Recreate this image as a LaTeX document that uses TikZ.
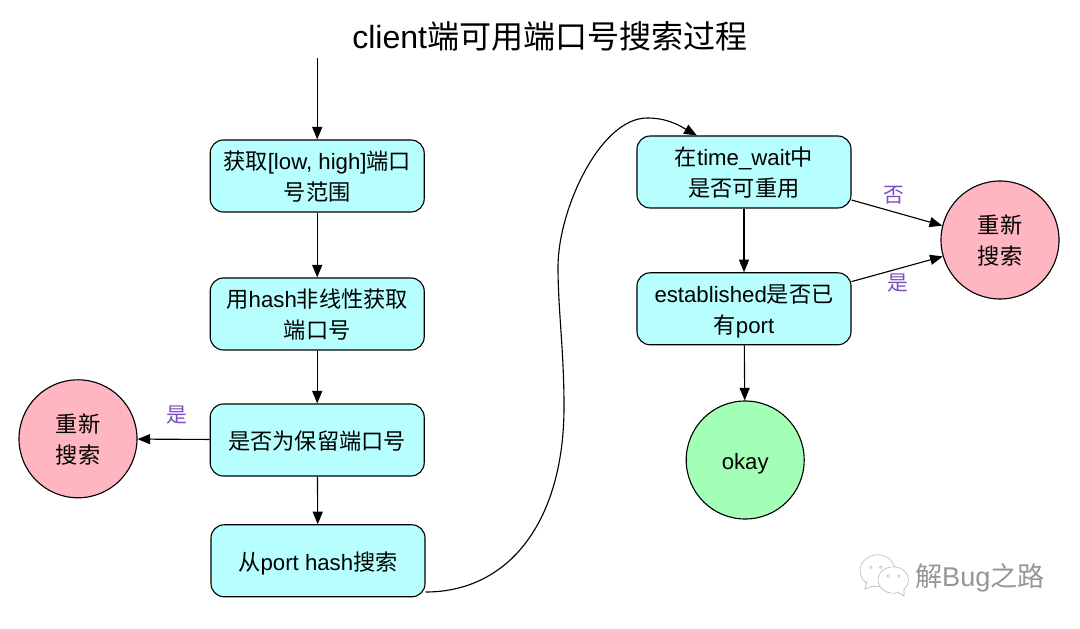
\documentclass[tikz,border=0pt]{standalone}
\usepackage{fontspec}
\setmainfont{Liberation Sans}
\newfontfamily\cjk{Noto Sans CJK SC}
\usetikzlibrary{arrows.meta}
\definecolor{boxcyan}{RGB}{183, 255, 255}
\definecolor{retrypink}{RGB}{255, 182, 193}
\definecolor{okaygreen}{RGB}{164, 255, 182}
\definecolor{labelviolet}{RGB}{122, 78, 190}
\definecolor{markgray}{RGB}{150, 150, 150}
\newcommand{\lowtext}[1]{\raisebox{0pt}[\dimexpr\height+4.4pt][\depth]{\begin{tabular}{@{}c@{}}#1\end{tabular}}}
\tikzset{
  stepbox/.style={draw=black, fill=boxcyan, rounded corners=0.33cm, minimum width=5.35cm, minimum height=1.8cm, align=center, font=\fontsize{15.8}{22}\selectfont, line width=0.8pt, inner sep=0pt},
  endcircle/.style={draw=black, circle, minimum size=2.95cm, align=center, font=\fontsize{15.8}{22}\selectfont, line width=0.8pt, inner sep=0pt},
  flow/.style={-{Triangle[length=9pt,width=7.2pt]}, line width=0.8pt},
  yesno/.style={text=labelviolet, font=\cjk\fontsize{14.8}{16}\selectfont}
}
\begin{document}
\begin{tikzpicture}
            \useasboundingbox (0.00,0.00) rectangle (27.00,15.70);
            \node (title) at (13.75,14.78) {\fontsize{22.8}{26}\selectfont client{\cjk 端可用端口号搜索过程}};
            \coordinate (start) at (7.93,14.25);
            % left column
            \node[stepbox] (range)    at (7.93,11.30) {\lowtext{{\cjk 获取}[low, high]{\cjk 端口}\\{\cjk 号范围}}};
            \node[stepbox] (hash)     at (7.93, 7.85) {\lowtext{{\cjk 用}hash{\cjk 非线性获取}\\{\cjk 端口号}}};
            \node[stepbox] (reserved) at (7.93, 4.70) {\lowtext{\cjk 是否为保留端口号}};
            \node[stepbox] (porthash) at (7.95, 1.68) {\lowtext{{\cjk 从}port hash{\cjk 搜索}}};
            \node[endcircle, fill=retrypink] (retryl) at (1.95, 4.73) {\lowtext{{\cjk 重新}\\{\cjk 搜索}}};
            % right column
            \node[stepbox] (timewait) at (18.60,11.40) {\lowtext{{\cjk 在}time\_wait{\cjk 中}\\{\cjk 是否可重用}}};
            \node[stepbox] (estab)    at (18.60, 7.98) {\lowtext{established{\cjk 是否已}\\{\cjk 有}port}};
            \node[endcircle, fill=retrypink] (retryr) at (25.00, 9.70) {\lowtext{{\cjk 重新}\\{\cjk 搜索}}};
            \node[endcircle, fill=okaygreen] (okay)   at (18.63, 4.20) {\lowtext{okay}};
            % connectors
            \draw[flow] (start) -- (range);
            \draw[flow] (range) -- (hash);
            \draw[flow] (hash) -- (reserved);
            \draw[flow] (reserved) -- (porthash);
            \draw[flow] (reserved) -- (retryl);
            \draw[flow] (timewait) -- (estab);
            \draw[flow] (estab) -- (okay);
            \draw[flow] ([yshift=-0.70cm]timewait.east) -- (retryr.166);
            \draw[flow] ([yshift=0.68cm]estab.east) -- (retryr.196);
            \draw[flow] ([yshift=-0.78cm]porthash.east) .. controls (12.75,0.90) and (14.10,2.70) .. (14.10,5.53)
                 .. controls (14.10,6.95) and (13.95,7.95) .. (13.95,9.03)
                 .. controls (13.95,10.45) and (15.00,12.75) .. (16.18,12.75)
                 .. controls (16.70,12.75) and (17.00,12.55) .. ([xshift=-1.18cm]timewait.north);
            \node[yesno] (yesleft)  at ( 4.43, 5.33) {是};
            \node[yesno] (noright)  at (22.35,10.82) {否};
            \node[yesno] (yesright) at (22.45, 8.62) {是};
            % watermark
            \filldraw[draw=markgray!70, fill=white, line width=0.4pt] (21.94,1.43) ellipse (0.44 and 0.40);
            \filldraw[draw=markgray!70, fill=white, line width=0.4pt] (21.85,1.06) -- (21.62,0.97) -- (21.68,1.18);
            \filldraw[draw=markgray!70, fill=white, line width=0.4pt] (22.33,1.20) ellipse (0.38 and 0.33);
            \filldraw[draw=markgray!70, fill=white, line width=0.4pt] (22.45,0.89) -- (22.60,0.80) -- (22.60,0.98);
            \foreach \eyex/\eyey in {21.77/1.52, 22.02/1.52, 22.21/1.30, 22.47/1.30}
                 \draw[markgray!70, line width=0.3pt] (\eyex,\eyey) circle (0.035);
            \node[text=markgray, anchor=west, inner sep=0pt] (mark) at (22.87,1.25) {\fontsize{19.3}{22}\selectfont{\cjk 解}Bug{\cjk 之路}};
\end{tikzpicture}
\end{document}
